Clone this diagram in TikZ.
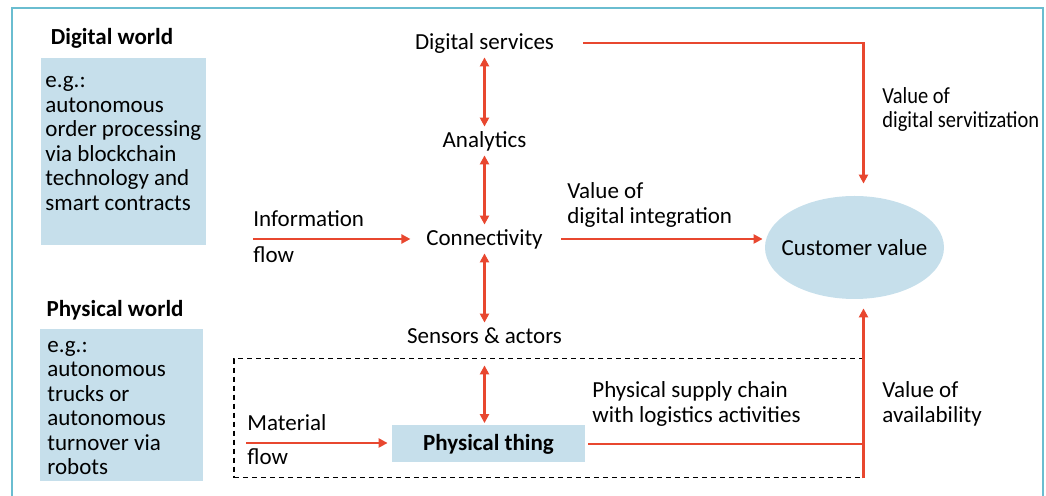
\documentclass[tikz,border=0pt]{standalone}
\usepackage{fontspec}
\usepackage{graphicx}
\setmainfont{Carlito}
\usepackage{tikz}
\usetikzlibrary{arrows.meta,positioning,shapes.geometric}
\definecolor{flowred}{HTML}{E8472F}
\definecolor{boxblue}{HTML}{C6DFEB}
\definecolor{framecyan}{HTML}{6ABDD0}
\newcommand{\diafont}{\fontsize{11.5}{12.25}\selectfont}
\tikzset{
    %Define standard arrow tip
    >={Triangle[length=4.5pt,width=4.5pt]},
    %Define style for plain labels
    lbl/.style={
           inner sep=2pt,
           text height=8.5pt,
           text depth=1.5pt,
           font=\diafont},
    heading/.style={
           lbl,
           font=\diafont\bfseries},
    multi/.style={
           inner sep=2pt,
           align=left,
           anchor=west,
           font=\diafont},
    %Define style for boxes
    examplebox/.style={
           rectangle,
           fill=boxblue,
           inner sep=0pt,
           anchor=north west,
           font=\diafont},
    thingbox/.style={
           rectangle,
           fill=boxblue,
           minimum width=96.5pt,
           minimum height=18.5pt,
           font=\diafont\bfseries,
           text centered},
    valuenode/.style={
           ellipse,
           fill=boxblue,
           inner sep=0pt,
           minimum width=89.5pt,
           minimum height=51.5pt},
    physframe/.style={
           rectangle,
           draw=black,
           line width=0.75pt,
           dash pattern=on 2.5pt off 2pt,
           minimum width=314.5pt,
           minimum height=59.5pt,
           anchor=north west},
    % Define arrow style
    pil/.style={
           flowred,
           line width=1.4pt}
}

\begin{document}
\begin{tikzpicture}[x=0.5pt,y=-0.5pt,node distance=49pt,on grid]
\useasboundingbox (0,0) rectangle (1046,496);
\draw[framecyan, line width=1pt] (12,500) -- (12,8) -- (1043,8) -- (1043,500);

% left column
\node[heading](digw) at (112,38){Digital world};
\node[examplebox](digex) at (41,58){\parbox[c][93.5pt][t]{82.5pt}{\raggedright\leftskip=2pt
  \vspace*{6pt}\strut e.g.:\\autonomous\\order processing\\via blockchain\\technology and\\smart contracts}};
\node[heading](phyw) at (115,310){Physical world};
\node[examplebox](phyex) at (40,329){\parbox[c][76pt][t]{81.5pt}{\raggedright\leftskip=3.5pt
  \vspace*{2.8pt}\strut e.g.:\\autonomous\\trucks or\\autonomous\\turnover via\\robots}};

% central chain
\node[lbl](serv) at (484.5,43){Digital services};
\node[lbl, below=of serv](ana){Analytics};
\node[lbl, below=of ana](conn){Connectivity};
\node[lbl, below=of conn](sens){Sensors \& actors};
\node[physframe](phys) at (233,358){};
\node[thingbox](thing) at (488.5,444){Physical thing};
\node[valuenode, label={[font=\diafont]center:Customer value}](cust) at (854.5,247.5){};

% flows in
\coordinate (infoin) at (253,239);
\coordinate (matin) at (246,443);
\node[lbl, anchor=west](infotxt) at (249,220){Information};
\node[lbl, anchor=west](infoflow) at (249,256){flow};
\node[lbl, anchor=west](mattxt) at (243,424){Material};
\node[lbl, anchor=west](matflow) at (243,458){flow};

% value labels
\node[multi](integ) at (563,205){Value of\\digital integration};
\node[multi](servval) at (878,109.5){\scalebox{0.89}[1]{Value of}\\\scalebox{0.89}[1]{digital servitization}};
\node[multi](supply) at (588,404){Physical supply chain\\with logistics activities};
\node[multi](avail) at (878,404){Value of\\availability};

\draw[pil, <->] (serv) -- (ana);
\draw[pil, <->] (ana) -- (conn);
\draw[pil, <->] (conn) -- (sens);
\draw[pil, <->, shorten <=7pt, shorten >=1pt] (sens) -- (sens |- thing.north);
\draw[pil, ->, shorten >=5.75pt] (infoin) -- (conn);
\draw[pil, ->, shorten >=2pt] (matin) -- (matin -| thing.west);
\draw[pil, ->, shorten <=7pt, shorten >=1pt] (conn) -- (conn -| cust.west);
\draw[pil, ->, shorten <=12.5pt, shorten >=6pt] (serv) -| (cust.north -| phys.east);
\draw[pil, shorten <=1.5pt] (thing) -- (thing -| phys.east);
\draw[pil, ->, shorten >=4.5pt] (phys.south east) -- (phys.south east |- cust.south);
\end{tikzpicture}
\end{document}
